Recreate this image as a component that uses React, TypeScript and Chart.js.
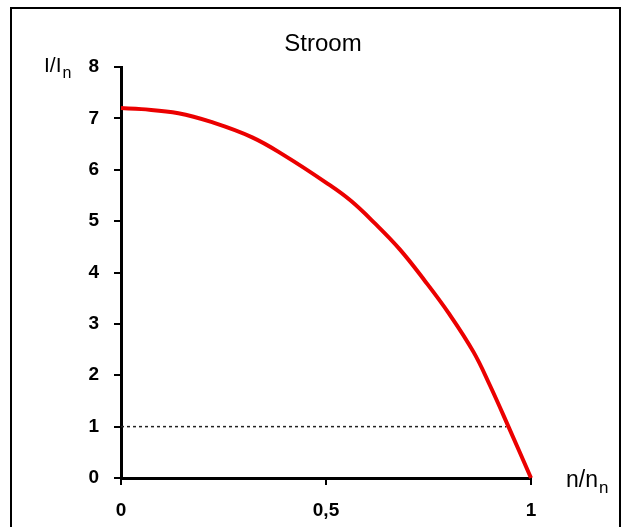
import React, { useEffect, useRef } from "react";
import { Chart, registerables } from "chart.js";

Chart.register(...registerables);

const speedRatio = [0, 0.05, 0.14, 0.22, 0.32, 0.4, 0.5, 0.56, 0.62, 0.68, 0.74, 0.8, 0.86, 0.9, 0.945, 1];
const currentRatio = [7.2, 7.18, 7.1, 6.93, 6.63, 6.27, 5.75, 5.4, 4.95, 4.45, 3.85, 3.2, 2.45, 1.8, 1.0, 0];
const nominalX = [0, 0.94];
const nominalY = [1, 1];
const xTickValues = [0, 0.5, 1];
const xTickLabels = ["0", "0,5", "1"];
const yTickValues = [0, 1, 2, 3, 4, 5, 6, 7, 8];

const FONT = "'Liberation Sans', Arial, sans-serif";

const W = 629;
const H = 527;

const decorPlugin = {
  id: "decor",
  afterDraw(chart: any) {
    const ctx = chart.ctx;
    ctx.save();
    // frame
    ctx.strokeStyle = "#000";
    ctx.lineWidth = 2;
    ctx.strokeRect(11, 8, 609, 540);
    ctx.fillStyle = "#000";
    ctx.textBaseline = "alphabetic";
    // title
    ctx.font = `24px ${FONT}`;
    ctx.textAlign = "center";
    ctx.fillText("Stroom", 323, 51);
    // y title
    ctx.textAlign = "left";
    ctx.font = `21px ${FONT}`;
    ctx.fillText("I/I", 44, 72);
    const w1 = ctx.measureText("I/I").width;
    ctx.font = `16px ${FONT}`;
    ctx.fillText("n", 44 + w1 + 1, 78);
    // x title
    ctx.font = `23px ${FONT}`;
    ctx.fillText("n/n", 566, 487);
    const w2 = ctx.measureText("n/n").width;
    ctx.font = `17px ${FONT}`;
    ctx.fillText("n", 566 + w2 + 1, 493);
    ctx.restore();
  },
};

export default function App() {
  const ref = useRef<HTMLCanvasElement | null>(null);
  useEffect(() => {
    if (!ref.current) return;
    const chart = new Chart(ref.current, {
      type: "line",
      data: {
        datasets: [
          {
            data: speedRatio.map((x, i) => ({ x, y: currentRatio[i] })),
            borderColor: "rgb(235,0,0)",
            borderWidth: 4,
            pointRadius: 0,
            tension: 0.4,
            clip: 6,
            order: 1,
          },
          {
            data: nominalX.map((x, i) => ({ x, y: nominalY[i] })),
            borderColor: "#222",
            borderWidth: 1.5,
            borderDash: [3, 3],
            pointRadius: 0,
            order: 2,
          },
        ],
      },
      options: {
        responsive: false,
        animation: false,
        layout: { padding: { left: 0, top: 67, right: W - 531, bottom: 0 } },
        plugins: { legend: { display: false }, tooltip: { enabled: false }, title: { display: false } },
        scales: {
          x: {
            type: "linear",
            min: 0,
            max: 1,
            afterFit: (s: any) => {
              s.height = H - 478;
            },
            afterBuildTicks: (s: any) => {
              s.ticks = xTickValues.map((v) => ({ value: v }));
            },
            ticks: {
              callback: (v: any) => xTickLabels[xTickValues.indexOf(Number(v))] ?? "",
              color: "#000",
              font: { family: FONT, size: 19, weight: "bold" },
              padding: 14,
              maxRotation: 0,
            },
            grid: { drawOnChartArea: false, drawTicks: true, tickLength: 7, color: "#000", lineWidth: 2 },
            border: { display: true, color: "#000", width: 3 },
          },
          y: {
            type: "linear",
            min: 0,
            max: 8,
            afterFit: (s: any) => {
              s.width = 121;
            },
            afterBuildTicks: (s: any) => {
              s.ticks = yTickValues.map((v) => ({ value: v }));
            },
            ticks: {
              color: "#000",
              font: { family: FONT, size: 19, weight: "bold" },
              padding: 15,
            },
            grid: { drawOnChartArea: false, drawTicks: true, tickLength: 7, color: "#000", lineWidth: 2 },
            border: { display: true, color: "#000", width: 3 },
          },
        },
      },
      plugins: [decorPlugin],
    } as any);
    return () => chart.destroy();
  }, []);
  return (
    <canvas
      ref={ref}
      width={W}
      height={H}
      style={{ position: "fixed", left: 0, top: 0, width: W, height: H, background: "#fff" }}
    />
  );
}
